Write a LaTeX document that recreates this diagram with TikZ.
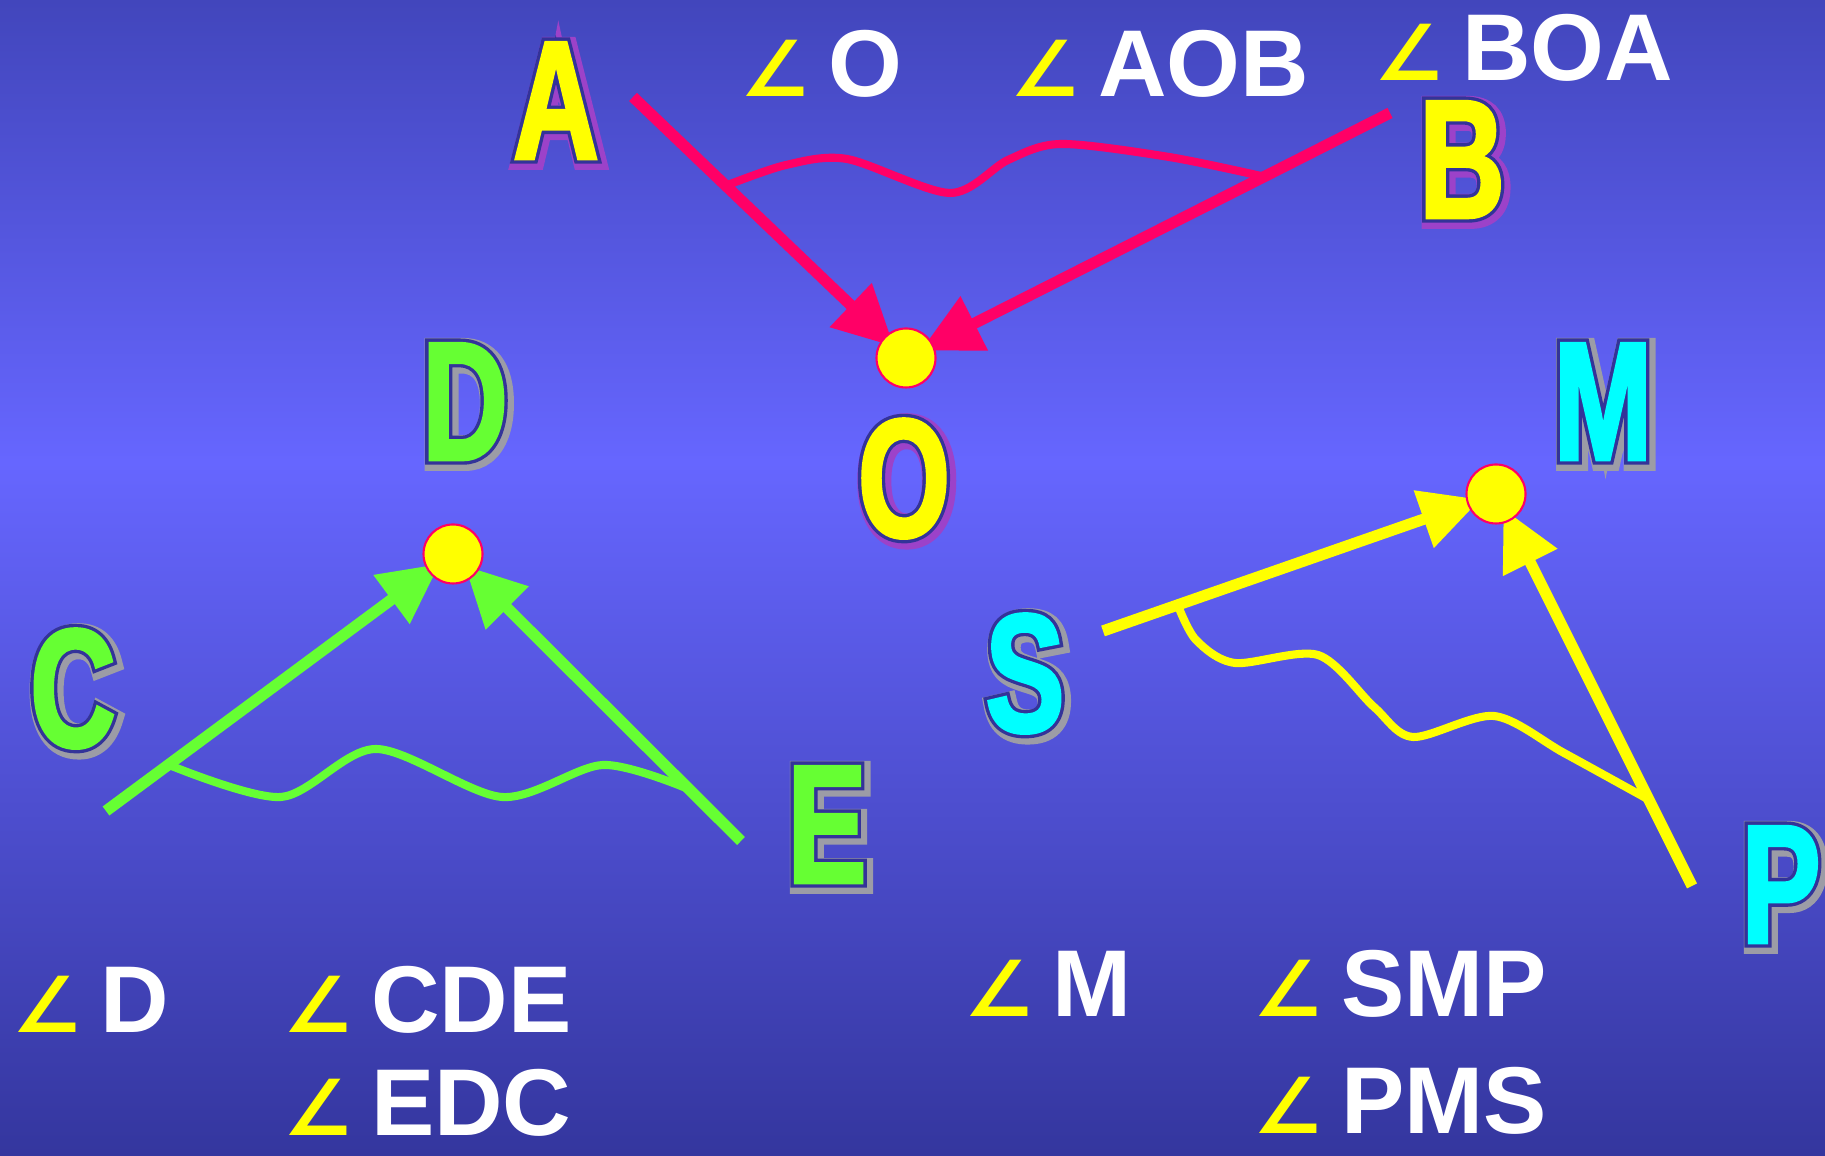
\documentclass[tikz,border=0pt]{standalone}
\usepackage{fontspec}
\usetikzlibrary{arrows.meta,calc}

\setmainfont{Liberation Sans}
\newfontfamily\letterfont{Liberation Sans}[FakeStretch=0.70,FakeBold=2]
\newfontfamily\edgefont{Liberation Sans}[FakeStretch=0.70,FakeBold=6]
\newfontfamily\glowfont{Liberation Sans}[FakeStretch=0.70,FakeBold=10]
\newfontfamily\symfont{DejaVu Sans}

\definecolor{bgtop}{RGB}{66,70,188}
\definecolor{bgmid}{RGB}{102,102,255}
\definecolor{bgbot}{RGB}{52,54,158}
\definecolor{edge}{RGB}{51,51,153}
\definecolor{linered}{RGB}{255,0,102}
\definecolor{linegreen}{RGB}{102,255,51}
\definecolor{lineyellow}{RGB}{255,255,0}
\definecolor{lettercyan}{RGB}{0,255,255}
\colorlet{pinkglow}{linered!35!bgmid}
\colorlet{yellowglow}{lineyellow!35!bgmid}

\pgfdeclareverticalshading{slide}{100bp}{color(0bp)=(bgbot); color(25bp)=(bgbot); color(55bp)=(bgmid); color(75bp)=(bgtop); color(100bp)=(bgtop)}
\pgfdeclarelayer{back}
\pgfsetlayers{back,main}

% big outlined letter: fill colour, glow colour, text
\newcommand{\bigletter}[3]{%
  \makebox[0pt][l]{\raisebox{-0.8pt}{\kern0.8pt\glowfont\color{#2}#3}}%
  \makebox[0pt][l]{\edgefont\color{edge}#3}%
  {\letterfont\color{#1}#3}}
% yellow angle sign
\newcommand{\ang}{{\symfont\bfseries\color{lineyellow}\fontsize{22}{22}\selectfont ∠}\hspace{1.8mm}}

\tikzset{
  ray/.style={line width=3.2pt, shorten >=-1.4mm, -{Triangle[length=6mm,width=5.8mm]}},
  wave/.style={line width=2.3pt, line join=round},
  vertex/.style={circle, fill=lineyellow, draw=linered, line width=0.6pt, minimum size=5.9mm, inner sep=0pt},
  letter/.style={inner sep=0pt, font=\fontsize{48}{48}\selectfont\bfseries},
  anglabel/.style={anchor=base west, inner sep=0pt, text=white, font=\fontsize{27}{27}\selectfont\bfseries}
}

\begin{document}
\begin{tikzpicture}
  \useasboundingbox (0,0) rectangle (18.25,11.56);
  % background
  \begin{pgfonlayer}{back}
    \shade[shading=slide] (0,0) rectangle (18.25,11.56);
  \end{pgfonlayer}

  % angle names
  \node[anglabel] (nO) at (7.40,10.59) {\ang O};
  \node[anglabel] (nAOB) at (10.10,10.59) {\ang AOB};
  \node[anglabel] (nBOA) at (13.74,10.75) {\ang BOA};
  \node[anglabel] (nD) at (0.12,1.23) {\ang D};
  \node[anglabel] (nCDE) at (2.83,1.23) {\ang CDE};
  \node[anglabel] (nEDC) at (2.83,0.20) {\ang EDC};
  \node[anglabel] (nM) at (9.64,1.39) {\ang M};
  \node[anglabel] (nSMP) at (12.53,1.39) {\ang SMP};
  \node[anglabel] (nPMS) at (12.53,0.22) {\ang PMS};

  % vertices
  \node[vertex] (vO) at (9.06,7.98) {};
  \node[vertex] (vD) at (4.53,6.02) {};
  \node[vertex] (vM) at (14.96,6.62) {};

  % letters
  \node[letter] (A) at (5.56,10.54) {\bigletter{lineyellow}{pinkglow}{A}};
  \node[letter] (B) at (14.62,9.95) {\bigletter{lineyellow}{pinkglow}{B}};
  \node[letter] (O) at (9.04,6.76) {\bigletter{lineyellow}{pinkglow}{O}};
  \node[letter] (D) at (4.65,7.53) {\bigletter{linegreen}{yellowglow}{D}};
  \node[letter] (C) at (0.73,4.66) {\bigletter{linegreen}{yellowglow}{C}};
  \node[letter] (E) at (8.27,3.30) {\bigletter{linegreen}{yellowglow}{E}};
  \node[letter] (M) at (16.03,7.53) {\bigletter{lettercyan}{yellowglow}{M}};
  \node[letter] (S) at (10.25,4.81) {\bigletter{lettercyan}{yellowglow}{S}};
  \node[letter] (P) at (17.81,2.70) {\bigletter{lettercyan}{yellowglow}{P}};

  % ray ends
  \coordinate (Atail) at (6.33,10.59);
  \coordinate (Btail) at (13.90,10.43);
  \coordinate (Ctail) at (1.06,3.45);
  \coordinate (Etail) at (7.41,3.15);
  \coordinate (Stail) at (11.03,5.25);
  \coordinate (Ptail) at (16.92,2.70);

  \begin{pgfonlayer}{back}
  % angle AOB
  \draw[ray, linered] (Atail) -- (vO);
  \draw[ray, linered] (Btail) -- (vO);
  % angle CDE
  \draw[ray, linegreen] (Ctail) -- (vD);
  \draw[ray, linegreen] (Etail) -- (vD);
  % angle SMP
  \draw[ray, lineyellow] (Stail) -- (vM);
  \draw[ray, lineyellow] (Ptail) -- (vM);
  \end{pgfonlayer}

  % arcs
  \coordinate (r1) at ($(Atail)!0.34!(vO)$);
  \coordinate (r2) at ($(Btail)!0.26!(vO)$);
  \draw[wave, linered] plot[smooth] coordinates {(r1) (7.86,9.91) (8.47,9.97) (9.50,9.63) (10.08,9.96) (10.61,10.12) (11.69,9.99) (r2)};
  \coordinate (g1) at ($(Ctail)!0.18!(vD)$);
  \coordinate (g2) at ($(Etail)!0.18!(vD)$);
  \draw[wave, linegreen] plot[smooth] coordinates {(g1) (2.81,3.59) (3.76,4.07) (5.02,3.59) (6.03,3.91) (g2)};
  \coordinate (y1) at ($(Stail)!0.19!(vM)$);
  \coordinate (y2) at ($(Ptail)!0.22!(vM)$);
  \draw[wave, lineyellow] plot[smooth] coordinates {(y1) (11.96,5.16) (12.35,4.93) (13.18,5.01) (13.74,4.49) (14.13,4.19) (14.94,4.40) (15.64,4.03) (y2)};
\end{tikzpicture}
\end{document}
